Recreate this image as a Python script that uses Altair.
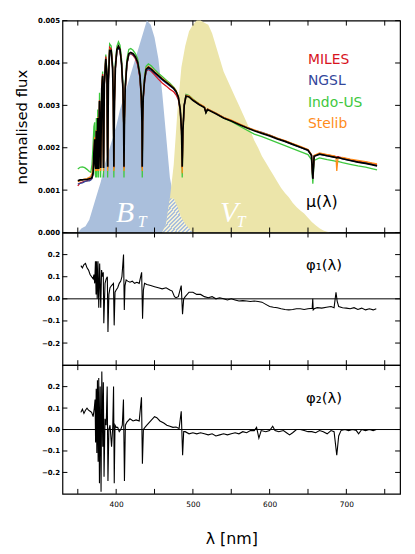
import altair as alt
import pandas as pd
import numpy as np

XMIN, XMAX = 330, 770
W = 341
H1, H2, H3 = 214, 134, 130
TL = 5  # tick length (px)

# ---------------- filter transmission curves (scaled to the flux axis) ----
FILT_LAM = list(range(350, 705, 5))
BT = [0, 0.0001, 0.00015, 0.0003, 0.0006, 0.0009, 0.0012, 0.0016, 0.0019, 0.0022,
      0.0025, 0.0029, 0.0032, 0.0035, 0.0038, 0.0041, 0.0044, 0.0047, 0.005, 0.0049,
      0.0046, 0.0041, 0.0033, 0.0023, 0.0013, 0.0008, 0.0006, 0.00035, 0.0002, 0.0001] + [0] * 41
VT = [0] * 22 + [0, 0.0002, 0.0008, 0.0016, 0.0029, 0.0039, 0.0044, 0.00475, 0.0049, 0.005,
                 0.005, 0.00495, 0.0049, 0.0047, 0.0044, 0.0041, 0.0038, 0.0036, 0.0034, 0.0032,
                 0.003, 0.0028, 0.0026, 0.0024, 0.00217, 0.002, 0.0018, 0.00165, 0.0015, 0.00135,
                 0.0012, 0.00105, 0.00093, 0.00083, 0.0007, 0.0006, 0.00052, 0.00045, 0.00035, 0.00025,
                 0.00017, 0.0001, 0.00005, 0.00002, 0, 0, 0, 0, 0]

# ---------------- spectra (flux in units of 1e-3) ----------------
SPEC_LAM = [350, 353, 356, 359, 362, 365, 367, 368.5, 370, 371,
            372, 372.7, 373.4, 374.2, 375.0, 376.0, 377.1, 378.3, 379.8, 381.2,
            382.4, 383.5, 384.6, 386.5, 388.0, 388.9, 389.9, 391.5, 393.5, 395.3,
            396.3, 397.0, 397.8, 399.0, 401.0, 403.0, 405.0, 407.0, 408.8, 409.7,
            410.2, 410.8, 411.8, 414.0, 416.5, 419.0, 422.0, 425.0, 428.0, 431.0,
            432.8, 433.6, 434.0, 434.5, 435.3, 437.0, 439.0, 442.0, 446.0, 450.0,
            455, 460, 465, 470, 475, 478, 481, 483.5, 485.2, 486.1,
            487, 488.7, 491, 495, 500, 508, 515, 517, 519, 530,
            540, 550, 560, 570, 580, 590, 600, 610, 620, 630,
            640, 650, 654.5, 656.3, 658, 665, 675, 684, 686.5, 687.5,
            689, 695, 705, 715, 725, 733, 740]
MU = [1.22, 1.24, 1.24, 1.25, 1.25, 1.27, 1.28, 1.30, 1.42, 1.90,
      2.20, 1.60, 1.50, 2.40, 1.50, 2.70, 1.50, 3.10, 1.52, 3.40,
      3.70, 1.52, 3.50, 4.10, 3.70, 1.55, 3.60, 4.30, 4.30, 3.90,
      3.10, 1.55, 3.10, 3.90, 4.32, 4.40, 4.32, 4.00, 3.40, 2.60,
      1.55, 2.70, 3.40, 4.00, 4.22, 4.25, 4.22, 4.15, 4.02, 3.70,
      3.20, 2.60, 1.55, 2.60, 3.20, 3.60, 3.85, 3.90, 3.85, 3.78,
      3.70, 3.62, 3.55, 3.48, 3.40, 3.33, 3.20, 2.90, 2.40, 1.55,
      2.40, 3.00, 3.22, 3.20, 3.12, 3.02, 2.95, 2.83, 2.90, 2.80,
      2.70, 2.63, 2.55, 2.47, 2.40, 2.34, 2.28, 2.21, 2.15, 2.08,
      2.01, 1.94, 1.82, 1.27, 1.80, 1.85, 1.81, 1.78, 1.77, 1.76,
      1.77, 1.74, 1.70, 1.66, 1.63, 1.60, 1.57]
MILES = [1.10, 1.17, 1.19, 1.21, 1.22, 1.24, 1.26, 1.28, 1.40, 1.85,
         2.15, 1.58, 1.50, 2.38, 1.50, 2.68, 1.50, 3.12, 1.52, 3.42,
         3.74, 1.52, 3.52, 4.15, 3.72, 1.52, 3.62, 4.37, 4.33, 3.90,
         3.10, 1.52, 3.10, 3.88, 4.30, 4.38, 4.30, 3.98, 3.38, 2.60,
         1.52, 2.70, 3.38, 3.98, 4.20, 4.22, 4.18, 4.10, 3.96, 3.64,
         3.15, 2.58, 1.52, 2.58, 3.15, 3.55, 3.80, 3.85, 3.80, 3.72,
         3.62, 3.53, 3.46, 3.38, 3.32, 3.25, 3.14, 2.88, 2.38, 1.52,
         2.38, 3.00, 3.22, 3.21, 3.13, 3.03, 2.96, 2.84, 2.91, 2.81,
         2.71, 2.64, 2.56, 2.48, 2.41, 2.35, 2.29, 2.22, 2.16, 2.09,
         2.02, 1.95, 1.83, 1.27, 1.81, 1.86, 1.83, 1.80, 1.79, 1.78,
         1.79, 1.76, 1.72, 1.68, 1.66, 1.63, 1.60]
NGSL = [1.15, 1.16, 1.17, 1.20, 1.22, 1.22, 1.24, 1.27, 1.38, 1.85,
        2.18, 1.58, 1.50, 2.40, 1.50, 2.70, 1.50, 3.08, 1.52, 3.38,
        3.68, 1.52, 3.48, 4.08, 3.68, 1.55, 3.58, 4.28, 4.28, 3.88,
        3.08, 1.55, 3.08, 3.88, 4.28, 4.36, 4.30, 3.98, 3.40, 2.60,
        1.55, 2.70, 3.40, 3.98, 4.20, 4.22, 4.20, 4.13, 4.00, 3.68,
        3.20, 2.60, 1.55, 2.60, 3.18, 3.58, 3.82, 3.86, 3.82, 3.76,
        3.68, 3.60, 3.53, 3.46, 3.39, 3.32, 3.20, 2.90, 2.40, 1.55,
        2.40, 3.00, 3.24, 3.21, 3.12, 3.02, 2.96, 2.83, 2.91, 2.81,
        2.71, 2.64, 2.56, 2.48, 2.41, 2.36, 2.30, 2.22, 2.15, 2.08,
        2.01, 1.94, 1.82, 1.27, 1.80, 1.85, 1.81, 1.78, 1.77, 1.76,
        1.77, 1.74, 1.70, 1.66, 1.64, 1.61, 1.58]
INDO = [1.50, 1.54, 1.55, 1.53, 1.49, 1.44, 1.42, 1.60, 2.10, 2.50,
        2.60, 1.40, 1.30, 2.70, 1.30, 2.90, 1.30, 3.30, 1.30, 3.50,
        3.80, 1.30, 3.60, 4.20, 3.80, 1.30, 3.70, 4.45, 4.40, 4.00,
        3.10, 1.30, 3.20, 4.00, 4.40, 4.50, 4.42, 4.10, 3.50, 2.60,
        1.30, 2.70, 3.50, 4.10, 4.32, 4.34, 4.30, 4.22, 4.10, 3.75,
        3.20, 2.60, 1.30, 2.60, 3.20, 3.70, 3.92, 3.98, 3.93, 3.85,
        3.76, 3.68, 3.60, 3.52, 3.43, 3.35, 3.20, 2.90, 2.40, 1.30,
        2.40, 3.00, 3.26, 3.23, 3.15, 3.04, 2.96, 2.83, 2.91, 2.81,
        2.70, 2.62, 2.52, 2.42, 2.32, 2.26, 2.19, 2.12, 2.05, 1.98,
        1.91, 1.84, 1.72, 1.15, 1.70, 1.76, 1.72, 1.69, 1.68, 1.67,
        1.68, 1.65, 1.61, 1.57, 1.54, 1.51, 1.48]
STELIB = [1.20, 1.22, 1.25, 1.26, 1.27, 1.30, 1.33, 1.40, 1.55, 1.95,
          2.25, 1.55, 1.45, 2.42, 1.45, 2.72, 1.45, 3.10, 1.45, 3.40,
          3.70, 1.45, 3.50, 4.10, 3.70, 1.45, 3.62, 4.32, 4.30, 3.90,
          3.10, 1.45, 3.10, 3.90, 4.32, 4.40, 4.32, 4.00, 3.40, 2.60,
          1.45, 2.70, 3.40, 4.00, 4.22, 4.24, 4.22, 4.15, 4.02, 3.70,
          3.20, 2.60, 1.45, 2.60, 3.20, 3.62, 3.87, 3.92, 3.87, 3.80,
          3.72, 3.64, 3.57, 3.50, 3.42, 3.35, 3.22, 2.90, 2.40, 1.40,
          2.40, 3.00, 3.24, 3.22, 3.14, 3.04, 2.97, 2.84, 2.92, 2.82,
          2.72, 2.65, 2.57, 2.49, 2.42, 2.36, 2.30, 2.23, 2.17, 2.10,
          2.03, 1.96, 1.84, 1.30, 1.82, 1.88, 1.84, 1.81, 1.78, 1.45,
          1.75, 1.77, 1.73, 1.70, 1.67, 1.64, 1.62]

# ---------------- eigen-spectra ----------------
PHI1_LAM = [354, 356, 358, 360, 362, 364, 366, 368, 370, 371,
            372, 373.0, 373.8, 374.5, 375.3, 376.3, 377.3, 378.5, 379.9, 381.0,
            382.0, 383.2, 383.9, 385.5, 387.0, 388.5, 389.3, 390.5, 392, 394,
            396.5, 397.4, 398.5, 400, 402, 404, 406, 407.5, 409.6, 410.6,
            411.5, 413, 415, 418, 421, 424, 427, 430, 433.2, 434.4,
            435.5, 437, 440, 445, 450, 455, 460, 465, 470, 473,
            476, 478, 481, 484.8, 486.5, 488, 490, 495, 500, 505,
            510, 515, 520, 525, 530, 535, 540, 545, 550, 555,
            560, 565, 570, 575, 580, 585, 590, 595, 600, 605,
            610, 615, 620, 625, 630, 635, 640, 645, 650, 655.5,
            656.2, 656.8, 658, 662, 668, 674, 680, 684, 686.5, 688,
            690, 695, 700, 705, 710, 715, 720, 725, 730, 735, 739]
PHI1 = [0.15, 0.14, 0.155, 0.16, 0.14, 0.13, 0.11, 0.10, 0.09, 0.11,
        0.07, 0.17, 0.02, 0.17, 0.0, 0.17, -0.04, 0.16, -0.04, 0.13,
        0.10, 0.12, -0.11, 0.07, 0.09, 0.10, -0.15, 0.02, 0.05, 0.06,
        0.07, -0.12, 0.03, 0.04, 0.05, 0.07, 0.08, 0.10, 0.20, -0.05,
        0.06, 0.085, 0.08, 0.075, 0.08, 0.07, 0.075, 0.07, 0.12, -0.09,
        0.04, 0.07, 0.065, 0.06, 0.055, 0.05, 0.045, 0.05, 0.04, 0.035,
        0.01, 0.005, 0.01, 0.06, -0.07, 0.0, 0.01, 0.03, 0.03, 0.02,
        0.02, 0.01, 0.005, 0.01, 0.0, 0.005, 0.0, -0.005, 0.0, -0.005,
        -0.01, -0.008, -0.01, -0.012, -0.01, -0.012, -0.015, -0.025, -0.035, -0.038,
        -0.04, -0.045, -0.048, -0.05, -0.048, -0.045, -0.045, -0.048, -0.045, -0.043,
        0.0, -0.05, -0.045, -0.04, -0.042, -0.038, -0.035, -0.04, 0.03, -0.01,
        -0.035, -0.04, -0.042, -0.045, -0.04, -0.048, -0.042, -0.05, -0.045, -0.05, -0.045]
PHI2_LAM = [354, 356, 358, 360, 362, 364, 366, 368, 370, 371.5,
            372.5, 373.2, 374.0, 374.8, 375.6, 376.5, 377.3, 378.2, 379.2, 380.3,
            381.3, 382.5, 383.3, 384.2, 385.5, 387.0, 388.3, 389.3, 390.5, 392.0,
            394.0, 395.5, 396.6, 397.5, 398.5, 400, 402, 404, 406, 408,
            409.5, 410.8, 412, 414, 418, 422, 426, 430, 433.0, 434.2,
            435.5, 437.5, 440, 445, 450, 453, 457, 462, 466, 470,
            474, 478, 482, 484.8, 486.6, 488, 490, 495, 500, 505,
            510, 515, 520, 525, 530, 535, 540, 545, 550, 555,
            560, 565, 570, 575, 580, 583, 586, 589, 595, 600,
            604, 607, 612, 618, 622, 626, 630, 635, 640, 645,
            650, 655, 660, 665, 670, 675, 680, 684, 687.5, 690,
            693, 698, 703, 708, 713, 716, 720, 725, 730, 735, 739]
PHI2 = [0.08, 0.095, 0.075, 0.09, 0.10, 0.09, 0.085, 0.08, 0.06, 0.10,
        0.14, -0.06, 0.19, -0.11, 0.23, -0.15, 0.24, -0.25, 0.20, -0.29,
        0.27, -0.08, 0.22, -0.22, 0.05, 0.02, 0.20, -0.24, 0.00, 0.02,
        -0.08, 0.01, 0.20, -0.25, 0.02, 0.01, 0.01, -0.01, 0.0, 0.02,
        0.14, -0.24, 0.02, 0.035, 0.05, 0.04, 0.045, 0.04, 0.15, -0.16,
        0.0, 0.01, 0.02, 0.04, 0.06, 0.055, 0.04, 0.03, 0.02, 0.015,
        0.01, 0.012, 0.005, 0.085, -0.12, -0.01, -0.01, -0.02, -0.015, -0.02,
        -0.015, -0.02, -0.025, -0.02, -0.03, -0.025, -0.02, -0.025, -0.02, -0.015,
        -0.02, -0.01, -0.015, -0.005, -0.005, 0.01, -0.04, -0.005, -0.01, -0.005,
        0.015, -0.005, -0.01, -0.005, -0.015, -0.025, -0.015, 0.0, 0.0, -0.005,
        -0.01, -0.01, -0.015, -0.005, -0.01, -0.02, -0.005, -0.01, -0.12, -0.03,
        -0.005, 0.0, -0.005, 0.0, -0.005, -0.02, 0.0, -0.005, 0.0, -0.005, 0.0]

SERIES = ["Indo-US", "MILES", "NGSL", "Stelib"]          # drawing order
SERIES_DATA = [INDO, MILES, NGSL, STELIB]
SERIES_COLORS = {"MILES": "#d8141e", "NGSL": "#33479b", "Indo-US": "#3ec83e", "Stelib": "#ff8c1a"}
LEGEND_ORDER = ["MILES", "NGSL", "Indo-US", "Stelib"]

X_TICKS = [350, 400, 450, 500, 550, 600, 650, 700, 750]
X_LABELS = [400, 500, 600, 700]
Y1_TICKS = [0.0, 0.001, 0.002, 0.003, 0.004, 0.005]
Y2_TICKS = [-0.2, -0.1, 0.0, 0.1, 0.2]

BLUE_FILL = "#aabfdc"
YELLOW_FILL = "#ece5aa"
FONT = "DejaVu Sans"

# ---------------- data frames ----------------
filt = pd.DataFrame({"lam": FILT_LAM, "bt": BT, "vt": VT})
filt["ov"] = np.minimum(filt["bt"], filt["vt"])
ov = filt[(filt["lam"] >= 460) & (filt["lam"] <= 500)]

spec = pd.DataFrame({"lam": SPEC_LAM, "mu": MU})
for name, vals in zip(SERIES, SERIES_DATA):
    spec[name] = vals
for c in ["mu"] + SERIES:
    spec[c] = spec[c] / 1000.0
spec = spec.rename(columns={"Indo-US": "Indo"})

phi1 = pd.DataFrame({"lam": PHI1_LAM, "v": PHI1})
phi2 = pd.DataFrame({"lam": PHI2_LAM, "v": PHI2})

xscale = alt.Scale(domain=[XMIN, XMAX], nice=False, zero=False)
y1scale = alt.Scale(domain=[0, 0.005], nice=False, zero=False)
y2scale = alt.Scale(domain=[-0.3, 0.3], nice=False, zero=False)

X_AXIS_BOTTOM = alt.Axis(values=X_LABELS, format="d", title="λ [nm]", labelFontWeight="normal",
                         labelFontSize=7.5, labelPadding=7, titleFontSize=16, titlePadding=23,
                         titleFont=FONT, titleFontWeight="normal")
Y1_AXIS = alt.Axis(values=Y1_TICKS, format=".3f", title="normalised flux", titleFontSize=15,
                   titlePadding=8, titleFont=FONT, titleFontWeight="normal")
Y2_AXIS = alt.Axis(values=Y2_TICKS, format=".1f", title=None)


def make_panel(layers_fn, yscale, yaxis, yticks, h, xaxis=None):
    def X(field):
        return alt.X(field, type="quantitative", scale=xscale, axis=xaxis)

    def Y(field):
        return alt.Y(field, type="quantitative", scale=yscale, axis=yaxis, stack=None)

    layers = layers_fn(X, Y)
    dy = pd.DataFrame({"t": yticks})
    dx = pd.DataFrame({"t": X_TICKS})
    r = dict(color="black", strokeWidth=1)
    layers += [
        alt.Chart(dy).mark_rule(**r).encode(y=Y("t"), x=alt.value(0), x2=alt.value(TL)),
        alt.Chart(dy).mark_rule(**r).encode(y=Y("t"), x=alt.value(W), x2=alt.value(W - TL)),
        alt.Chart(dx).mark_rule(**r).encode(x=X("t"), y=alt.value(0), y2=alt.value(TL)),
        alt.Chart(dx).mark_rule(**r).encode(x=X("t"), y=alt.value(h), y2=alt.value(h - TL)),
    ]
    return alt.layer(*layers).properties(width=W, height=h)


def label(text, x, y, size, color, font=FONT, style="normal", weight="normal"):
    return alt.Chart(pd.DataFrame({"t": [text]})).mark_text(
        font=font, fontSize=size, fontStyle=style, fontWeight=weight, color=color,
        align="left", baseline="alphabetic"
    ).encode(x=alt.value(x), y=alt.value(y), text="t:N")


# stripes for the overlapping part of the two filters
n = 16
stops = []
for k in range(n):
    stops += [alt.GradientStop(offset=k / n, color=BLUE_FILL),
              alt.GradientStop(offset=(k + 0.5) / n, color=BLUE_FILL),
              alt.GradientStop(offset=(k + 0.5) / n, color="#f4f1d8"),
              alt.GradientStop(offset=(k + 1) / n, color="#f4f1d8")]
hatch = alt.LinearGradient(gradient="linear", stops=stops, x1=0, y1=0, x2=1, y2=1)


def panel1_layers(X, Y):
    ls = [
        alt.Chart(filt).mark_area(color=BLUE_FILL).encode(x=X("lam"), y=Y("bt")),
        alt.Chart(filt).mark_area(color=YELLOW_FILL).encode(x=X("lam"), y=Y("vt")),
        alt.Chart(ov).mark_area(color=hatch).encode(x=X("lam"), y=Y("ov")),
    ]
    for name in SERIES:
        col = "Indo" if name == "Indo-US" else name
        ls.append(alt.Chart(spec).mark_line(color=SERIES_COLORS[name], strokeWidth=1.3, clip=True)
                  .encode(x=X("lam"), y=Y(col)))
    ls.append(alt.Chart(spec).mark_line(color="black", strokeWidth=1.7, clip=True)
              .encode(x=X("lam"), y=Y("mu")))
    for i, name in enumerate(LEGEND_ORDER):
        ls.append(label(name, 248, 43.5 + 21.7 * i, 14, SERIES_COLORS[name]))
    ls.append(label("μ(λ)", 246, 188, 16, "black"))
    ls.append(label("B", 54, 203, 30, "white", font="Liberation Serif", style="italic"))
    ls.append(label("T", 76, 208, 16, "white", font="Liberation Serif", style="italic"))
    ls.append(label("V", 159, 203, 30, "white", font="Liberation Serif", style="italic"))
    ls.append(label("T", 176, 208, 16, "white", font="Liberation Serif", style="italic"))
    return ls


def phi_layers(df, lbl):
    def fn(X, Y):
        zero = pd.DataFrame({"z": [0.0]})
        return [
            alt.Chart(zero).mark_rule(color="black", strokeWidth=1).encode(y=Y("z")),
            alt.Chart(df).mark_line(color="black", strokeWidth=1.1, clip=True)
            .encode(x=X("lam"), y=Y("v")),
            label(lbl, 246, 38, 15, "black"),
        ]
    return fn


p1 = make_panel(panel1_layers, y1scale, Y1_AXIS, Y1_TICKS, H1)
p2 = make_panel(phi_layers(phi1, "φ₁(λ)"), y2scale, Y2_AXIS, Y2_TICKS, H2)
p3 = make_panel(phi_layers(phi2, "φ₂(λ)"), y2scale, Y2_AXIS, Y2_TICKS, H3, X_AXIS_BOTTOM)

chart = (
    alt.vconcat(p1, p2, p3, spacing=0, bounds="flush")
    .properties(padding={"left": 6, "top": 5, "right": 5, "bottom": 5}, background="white")
    .configure_view(stroke="black", strokeWidth=1.2)
    .configure_axis(grid=False, ticks=False, domain=False, labelFont=FONT, labelFontSize=7,
                    labelFontWeight="bold", labelColor="black", labelPadding=3, titleColor="black")
)

chart.save("out.html", embed_options={"renderer": "svg", "actions": False})
